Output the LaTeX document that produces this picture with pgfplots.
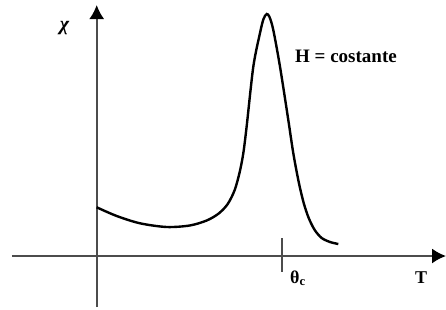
\documentclass[border=0pt]{standalone}
\usepackage{fontspec}
\setmainfont{Liberation Serif}
\usepackage{pgfplots}
\pgfplotsset{compat=1.18}
\usetikzlibrary{arrows.meta}
\begin{document}
\begin{tikzpicture}
\begin{axis}[
  scale only axis,
  width=434pt, height=302pt,
  xmin=-84.7, xmax=349.3,
  ymin=-51, ymax=251,
  axis lines=middle,
  axis line style={black!70, line width=1.8pt, -{Latex[length=14pt,width=15pt,black]}},
  xtick=\empty, ytick=\empty,
  clip=false,
]
\addplot[black, line width=2.4pt, smooth, tension=0.5] coordinates {
(0,48.7) (20,40) (43.3,32.7) (70,29) (93,30.5) (110,35.5) (122,42.5)
(131,52) (138,66) (143,84) (146.6,102.7) (150,130) (156.6,189.3) (163.3,223)
(166.8,237) (170,242) (172.8,239) (176.6,226) (183.3,189.3) (191.6,136)
(196.6,102.7) (202,74) (207,53) (212,38) (218,26) (225,18) (233.3,14) (241.6,12)
};
\addplot[black!70, line width=1.8pt] coordinates {(185,18) (185,-16)};
\node[font=\fontsize{20}{22}\selectfont\bfseries\itshape, anchor=center] at (axis cs:-32.2,227.5) {χ};
\node[font=\fontsize{19}{22}\selectfont\bfseries, anchor=base west, inner sep=0pt] at (axis cs:198.3,193.3) {H = costante};
\node[font=\fontsize{18}{22}\selectfont\bfseries, anchor=base west, inner sep=0pt] at (axis cs:193.3,-27) {θ\textsubscript{c}};
\node[font=\fontsize{18}{22}\selectfont\bfseries, anchor=base west, inner sep=0pt] at (axis cs:318.3,-27) {T};
\coordinate (bl) at (axis cs:-96.7,-53);
\coordinate (tr) at (axis cs:349.3,256);
\end{axis}
\pgfresetboundingbox
\path (bl) rectangle (tr);
\end{tikzpicture}
\end{document}
